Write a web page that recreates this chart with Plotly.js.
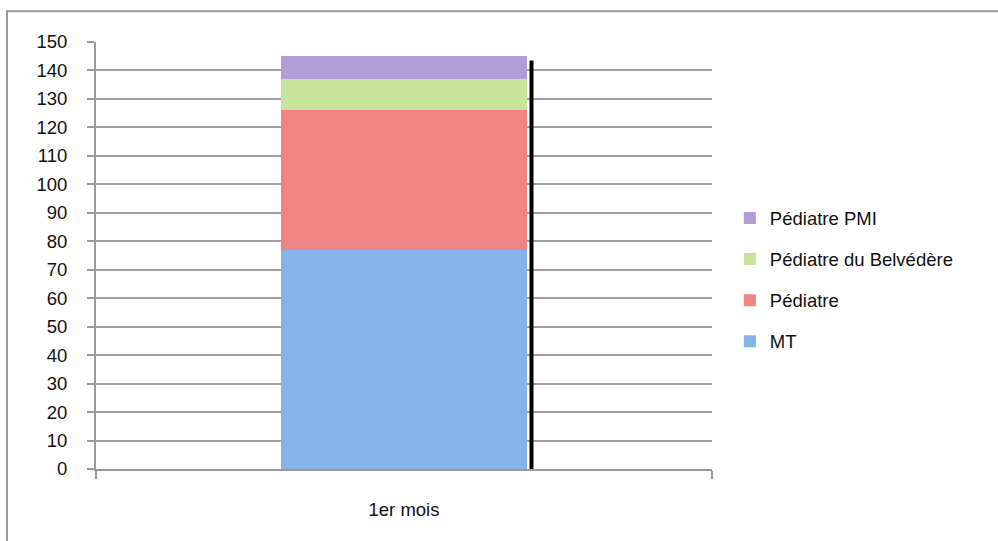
<!DOCTYPE html>
<html>
<head>
<meta charset="utf-8">
<script src="https://cdn.plot.ly/plotly-3.0.1.min.js"></script>
<style>html,body{margin:0;padding:0;background:#fff;}#chart{width:998px;height:541px;}</style>
</head>
<body>
<div id="chart"></div>
<script>
const categories = ["1er mois"];
const seriesNames = ["MT", "Pédiatre", "Pédiatre du Belvédère", "Pédiatre PMI"];
const mtValues = [77];
const pediatreValues = [49];
const belvedereValues = [11];
const pmiValues = [8];
const yTicks = [0,10,20,30,40,50,60,70,80,90,100,110,120,130,140,150];

const colors = ["#84b3e8", "#f08383", "#c8e49a", "#b29dd8"];
const allValues = [mtValues, pediatreValues, belvedereValues, pmiValues];

const traces = allValues.map((vals, i) => ({
  type: "bar",
  name: seriesNames[i],
  x: categories,
  y: vals,
  width: 0.4,
  legendgroup: "g" + i,
  legendrank: 1000 - i,
  marker: {color: colors[i], line: {width: 0}},
  hoverinfo: "name+y"
}));

const total = allValues.reduce((s, v) => s + v[0], 0);

const layout = {
  width: 998, height: 541,
  margin: {l: 96, r: 286, t: 42, b: 72, pad: 0},
  paper_bgcolor: "#ffffff", plot_bgcolor: "#ffffff",
  barmode: "stack",
  font: {family: "Liberation Sans, Arial, sans-serif", size: 18, color: "#111"},
  showlegend: true,
  legend: {
    x: 1.029, xanchor: "left", y: 0.4426, yanchor: "middle",
    traceorder: "grouped", tracegroupgap: 14,
    font: {size: 18.5, color: "#111"}, bgcolor: "rgba(0,0,0,0)"
  },
  xaxis: {
    type: "category", range: [-0.5, 0.5],
    showgrid: false, showline: true, linecolor: "#9a9a9a", linewidth: 2,
    ticks: "outside", tickson: "boundaries", ticklen: 8, tickcolor: "#9a9a9a", tickwidth: 2,
    ticklabelstandoff: 23, tickfont: {size: 18.5, color: "#111"},
    zeroline: false
  },
  yaxis: {
    range: [0, 150], tickvals: yTicks, ticktext: yTicks.map(String),
    showgrid: true, gridcolor: "#a0a0a0", gridwidth: 2,
    showline: true, linecolor: "#9a9a9a", linewidth: 2,
    ticks: "outside", ticklen: 7, tickcolor: "#9a9a9a", tickwidth: 2,
    ticklabelstandoff: 16, tickfont: {size: 18.5, color: "#111"},
    zeroline: false
  },
  shapes: [
    {type: "line", xref: "x", yref: "y", x0: 0.207, x1: 0.207, y0: 0, y1: total - 1.5,
     line: {color: "#000", width: 4}, layer: "above"},
    {type: "rect", xref: "paper", yref: "paper", x0: -0.1445, x1: 1.7, y0: 1.0718, y1: -0.3,
     line: {color: "#9a9a9a", width: 2}, fillcolor: "rgba(0,0,0,0)", layer: "below"}
  ]
};

Plotly.newPlot("chart", traces, layout, {displayModeBar: false, staticPlot: true});
</script>
</body>
</html>
